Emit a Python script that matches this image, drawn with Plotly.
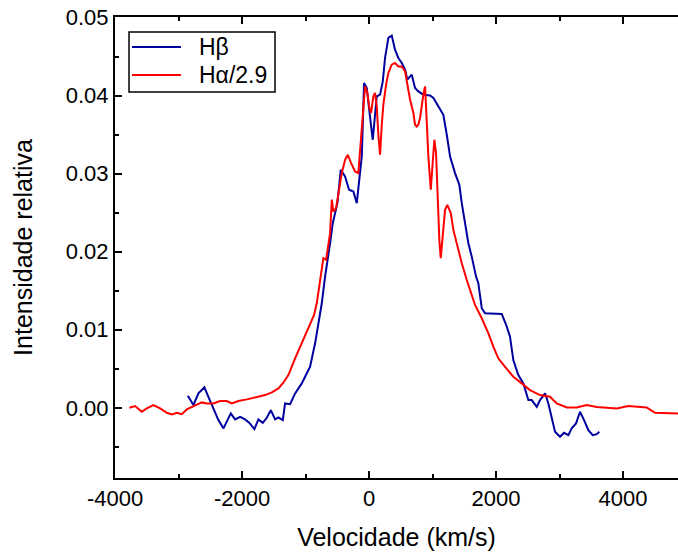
import plotly.graph_objects as go

# H-beta profile (velocity km/s, relative intensity)
hb_v = [-2855, -2767, -2688, -2594, -2531, -2452, -2373, -2294, -2231, -2178,
        -2110, -2031, -1953, -1885, -1806, -1743, -1674, -1611, -1548, -1480,
        -1428, -1359, -1323, -1244, -1165, -1060, -981, -929, -850, -798,
        -745, -693, -657, -614, -572, -535, -499, -446, -378, -315,
        -247, -194, -153, -115, -79, -36, 5, 31, 58, 94,
        121, 173, 216, 252, 304, 357, 409, 461, 515, 567,
        603, 646, 672, 724, 776, 855, 961, 1013, 1091, 1170,
        1224, 1276, 1354, 1422, 1460, 1512, 1564, 1617, 1685, 1721,
        1775, 1827, 1957, 2090, 2169, 2220, 2272, 2351, 2430, 2509,
        2562, 2641, 2693, 2772, 2824, 2877, 2929, 3008, 3071, 3139,
        3192, 3260, 3323, 3386, 3454, 3523, 3586, 3627]
hb_i = [0.00154, 0.00035, 0.00185, 0.00262, 0.00141, -0.00008, -0.00158, -0.00264, -0.00158, -0.00072,
        -0.00149, -0.00116, -0.00149, -0.00193, -0.00273, -0.00149, -0.00193, -0.00128, -0.00030, -0.00149,
        -0.00123, -0.00158, 0.00056, 0.00047, 0.00185, 0.00313, 0.00442, 0.00526, 0.00827, 0.01083,
        0.01340, 0.01682, 0.01854, 0.02110, 0.02367, 0.02496, 0.02624, 0.03051, 0.02965, 0.02795,
        0.02773, 0.02624, 0.02923, 0.03222, 0.04164, 0.04100, 0.03800, 0.03629, 0.03436, 0.03757,
        0.03992, 0.04014, 0.04185, 0.04485, 0.04742, 0.04772, 0.04592, 0.04485, 0.04421, 0.04335,
        0.04207, 0.04249, 0.04271, 0.04100, 0.04056, 0.04014, 0.04005, 0.03972, 0.03864, 0.03757,
        0.03501, 0.03222, 0.03009, 0.02859, 0.02624, 0.02367, 0.02110, 0.01938, 0.01682, 0.01597,
        0.01276, 0.01212, 0.01203, 0.01203, 0.01040, 0.00912, 0.00612, 0.00420, 0.00313, 0.00099,
        0.00099, 0.00013, 0.00099, 0.00185, 0.00056, -0.00116, -0.00308, -0.00372, -0.00321, -0.00350,
        -0.00264, -0.00200, -0.00051, -0.00158, -0.00286, -0.00350, -0.00338, -0.00308]

# H-alpha / 2.9 profile
ha_v = [-3775, -3685, -3580, -3501, -3397, -3291, -3186, -3107, -3028, -2950,
        -2871, -2767, -2635, -2556, -2452, -2346, -2241, -2162, -2058, -1926,
        -1769, -1638, -1532, -1428, -1350, -1271, -1165, -1087, -1008, -929,
        -866, -824, -783, -745, -720, -677, -641, -614, -587, -562,
        -520, -483, -430, -378, -335, -283, -220, -169, -115, -90,
        -63, -27, 5, 31, 68, 94, 121, 146, 173, 200,
        225, 268, 304, 357, 409, 461, 515, 567, 603, 646,
        698, 724, 751, 776, 803, 830, 855, 882, 909, 934,
        972, 1003, 1028, 1055, 1082, 1107, 1129, 1161, 1197, 1233,
        1287, 1328, 1391, 1460, 1539, 1591, 1669, 1775, 1879, 1957,
        2036, 2142, 2272, 2405, 2535, 2693, 2850, 2956, 3113, 3271,
        3428, 3586, 3901, 4083, 4373, 4504, 4866]
ha_i = [0.00000, 0.00022, -0.00051, -0.00008, 0.00035, -0.00008, -0.00064, -0.00085, -0.00064, -0.00081,
        -0.00021, 0.00022, 0.00069, 0.00056, 0.00056, 0.00086, 0.00086, 0.00056, 0.00086, 0.00108,
        0.00137, 0.00163, 0.00198, 0.00249, 0.00321, 0.00420, 0.00634, 0.00783, 0.00933, 0.01083,
        0.01190, 0.01340, 0.01597, 0.01810, 0.01918, 0.01896, 0.02067, 0.02239, 0.02669, 0.02516,
        0.02560, 0.02752, 0.03009, 0.03180, 0.03244, 0.03137, 0.03030, 0.03009, 0.03629, 0.03908,
        0.04121, 0.04036, 0.03843, 0.03779, 0.03992, 0.04036, 0.03864, 0.03501, 0.03244, 0.03629,
        0.03886, 0.04143, 0.04293, 0.04399, 0.04421, 0.04377, 0.04377, 0.04313, 0.04143, 0.03950,
        0.03779, 0.03629, 0.03607, 0.03629, 0.03715, 0.03908, 0.04014, 0.04121, 0.03680, 0.03220,
        0.02795, 0.03094, 0.03437, 0.03266, 0.02666, 0.02153, 0.01918, 0.02195, 0.02538, 0.02601,
        0.02496, 0.02281, 0.02067, 0.01854, 0.01639, 0.01511, 0.01318, 0.01148, 0.00955, 0.00783,
        0.00634, 0.00526, 0.00398, 0.00313, 0.00227, 0.00163, 0.00141, 0.00056, 0.00005, 0.00005,
        0.00035, 0.00010, -0.00008, 0.00022, 0.00005, -0.00064, -0.00072]

x_tickvals = [-4000, -2000, 0, 2000, 4000]
y_tickvals = [0.00, 0.01, 0.02, 0.03, 0.04, 0.05]
series_names = ["Hβ", "Hα/2.9"]
series_colors = ["#0000A0", "#FF0000"]

FONT = "Liberation Sans, Arial, sans-serif"

fig = go.Figure()
fig.add_trace(go.Scatter(x=hb_v, y=hb_i, mode="lines", name=series_names[0],
                         line=dict(color=series_colors[0], width=2), showlegend=False))
fig.add_trace(go.Scatter(x=ha_v, y=ha_i, mode="lines", name=series_names[1],
                         line=dict(color=series_colors[1], width=2), showlegend=False))

# legend box drawn in paper coordinates
shapes = [dict(type="rect", xref="paper", yref="paper", x0=0.0249, x1=0.2842, y0=0.8373, y1=0.9675,
               line=dict(color="black", width=1.5), fillcolor="white", layer="above")]
annotations = []
row_y = [0.9349, 0.8742]
for name, color, yy in zip(series_names, series_colors, row_y):
    shapes.append(dict(type="line", xref="paper", yref="paper", x0=0.0302, x1=0.1172, y0=yy, y1=yy,
                       line=dict(color=color, width=2), layer="above"))
    annotations.append(dict(xref="paper", yref="paper", x=0.1460, y=yy, xanchor="left", yanchor="middle",
                            text=name, showarrow=False, font=dict(family=FONT, size=23, color="black")))

fig.update_layout(
    width=678, height=554,
    margin=dict(l=115, r=0, t=17, b=76),
    paper_bgcolor="white", plot_bgcolor="white",
    font=dict(family=FONT, color="black", size=22),
    showlegend=False,
    shapes=shapes, annotations=annotations,
)
fig.update_xaxes(
    range=[-4002, 4866], tickvals=x_tickvals, ticktext=[str(v) for v in x_tickvals],
    ticks="inside", ticklen=7, tickwidth=2, tickcolor="black",
    showline=True, linewidth=2, linecolor="black", mirror="ticks",
    showgrid=False, zeroline=False,
    minor=dict(ticks="inside", ticklen=4, tickwidth=2, tickcolor="black", dtick=1000, tick0=0, showgrid=False),
    tickfont=dict(size=22),
    title=dict(text="Velocidade (km/s)", font=dict(size=25), standoff=18),
)
fig.update_yaxes(
    range=[-0.0090, 0.0501], tickvals=y_tickvals, tickformat=".2f",
    ticks="inside", ticklen=7, tickwidth=2, tickcolor="black",
    showline=True, linewidth=2, linecolor="black", mirror=False,
    showgrid=False, zeroline=False,
    minor=dict(ticks="inside", ticklen=4, tickwidth=2, tickcolor="black", dtick=0.005, tick0=0, showgrid=False),
    tickfont=dict(size=22),
    title=dict(text="Intensidade relativa", font=dict(size=25), standoff=26),
)

fig.write_html("out.html")
